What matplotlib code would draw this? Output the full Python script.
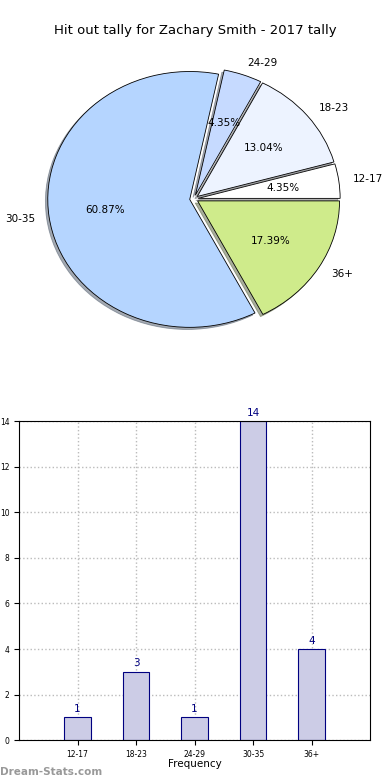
import matplotlib
matplotlib.use("Agg")
import matplotlib.pyplot as plt
import numpy as np

# data
groups = ["12-17", "18-23", "24-29", "30-35", "36+"]
counts = [1, 3, 1, 14, 4]
pie_colors = ["#ffffff", "#edf3ff", "#c6daff", "#b5d5ff", "#cfeb8b"]

fig = plt.figure(figsize=(3.9, 7.8), dpi=100)

# pie
ax1 = fig.add_axes([0.0423, 0.54, 0.91, 0.41])
ax1.pie(counts, labels=groups, colors=pie_colors, explode=[0.03] * 5,
        autopct="%1.2f%%",
        shadow={"ox": -0.012, "oy": -0.012, "shade": 0.6},
        wedgeprops={"edgecolor": "black", "linewidth": 0.6},
        textprops={"fontsize": 7.5})
ax1.set_aspect("auto")
ax1.set_xlim(-1.25, 1.25)
ax1.set_ylim(-1.25, 1.25)
fig.text(0.5, 0.961, "Hit out tally for Zachary Smith - 2017 tally",
         ha="center", va="center", fontsize=9.5)

# bars
ax2 = fig.add_axes([0.049, 0.051, 0.9, 0.409])
x = np.arange(len(groups))
ax2.bar(x, counts, width=0.45, color="#cccce6", edgecolor="navy",
        linewidth=0.8, zorder=2)
for xi, c in zip(x, counts):
    ax2.text(xi, c + 0.15, str(c), ha="center", va="bottom", color="navy",
             fontsize=7.5)
ax2.set_xlim(-1, 5)
ax2.set_ylim(0, 14)
ax2.set_xticks(x)
ax2.set_xticklabels(groups, fontsize=5.5)
ax2.set_yticks(range(0, 15, 2))
ax2.tick_params(axis="y", labelsize=5.5)
ax2.grid(True, linestyle=":", color="#bbbbbb", linewidth=1.0, zorder=0)
ax2.set_axisbelow(True)
ax2.set_xlabel("Frequency", fontsize=7.5, labelpad=0)
ax2.set_ylabel("Total Hit Outs", fontsize=7.5, labelpad=2)

fig.text(0.0, 0.004, "Dream-Stats.com", color="#999999", fontsize=7.5,
         fontweight="bold", ha="left", va="bottom")

fig.savefig("out.png", dpi=100)
